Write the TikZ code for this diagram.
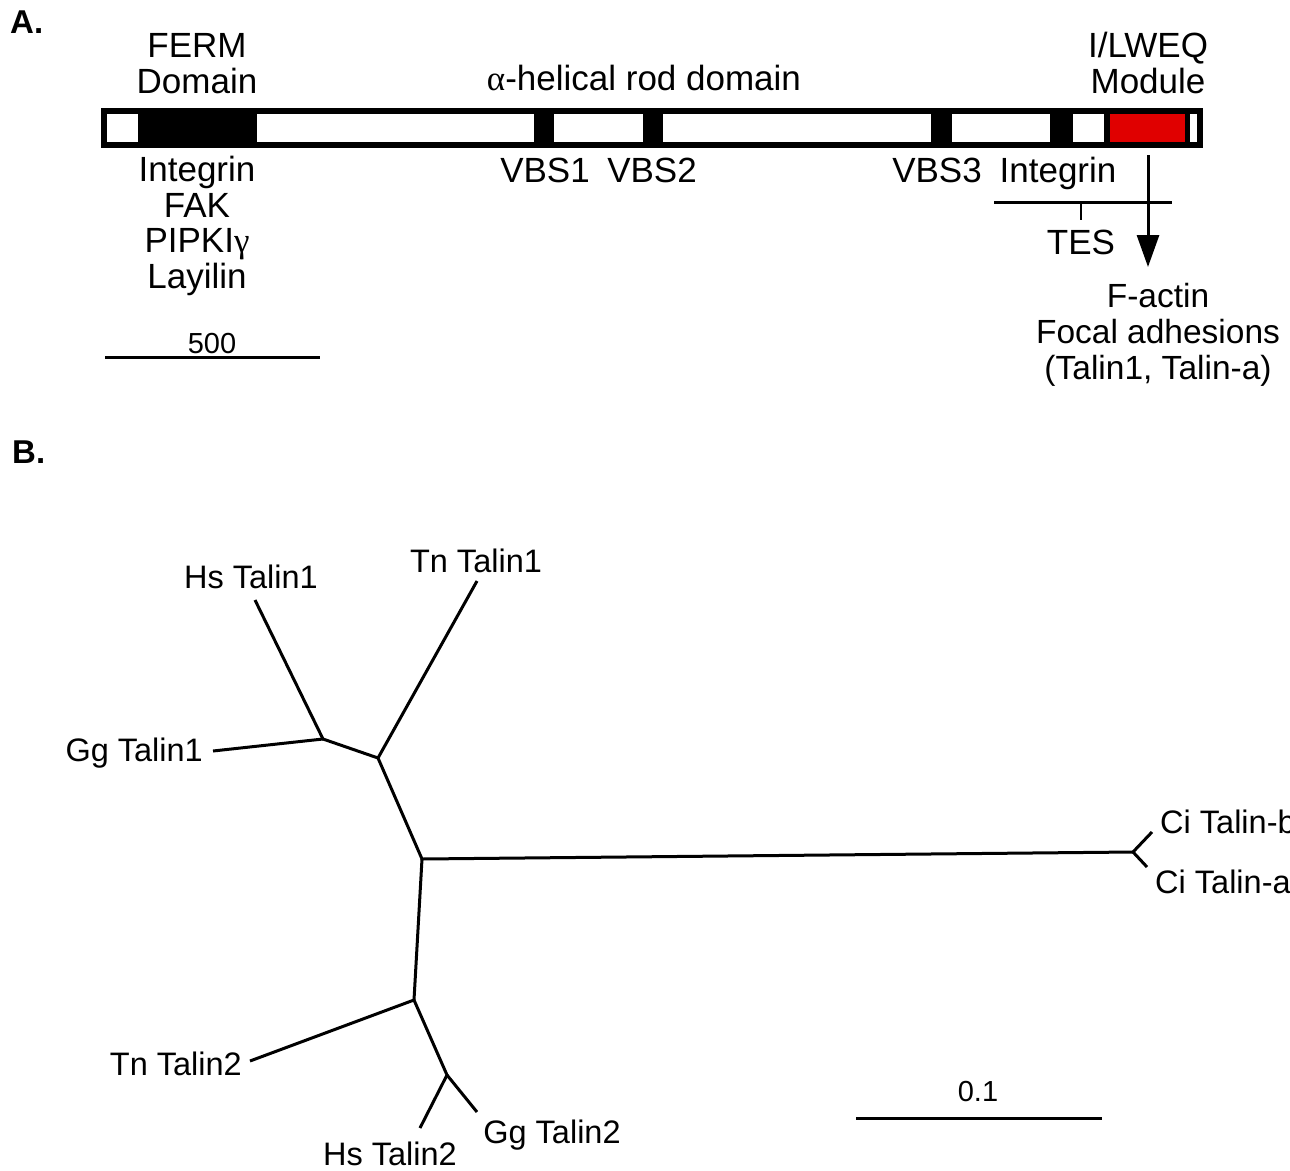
\documentclass[tikz,border=0pt]{standalone}
\usepackage{fontspec}
\setmainfont{Liberation Sans}
\newfontfamily\greekfont{Liberation Serif}
\usetikzlibrary{arrows.meta}
\definecolor{lweqred}{RGB}{224,0,0}

\begin{document}
\begin{tikzpicture}[x=1pt,y=-1pt,
  lbl/.style={inner sep=0pt, anchor=base, align=center,
              font=\fontsize{35}{35.5}\selectfont},
  sublbl/.style={inner sep=0pt, anchor=base, align=center,
              font=\fontsize{33.5}{36}\selectfont},
  taxon/.style={inner sep=0pt, font=\fontsize{32.5}{36}\selectfont},
  scalelbl/.style={inner sep=0pt, anchor=base, font=\fontsize{29}{34}\selectfont},
  panel/.style={inner sep=0pt, anchor=base west, font=\fontsize{33}{38}\selectfont\bfseries},
  branch/.style={line width=3pt},
  scalebar/.style={line width=3pt}
]
\useasboundingbox (0,0) rectangle (1290,1170);
\clip (0,0) rectangle (1290,1170);

% ---------------- Panel A: domain structure ----------------
\node[panel] (pa) at (10,33) {A.};

% bar outline and domains
\fill[black] (101,108) rectangle (1203,148);
\fill[white] (107,114) rectangle (1197,142);
\fill[black] (138,108) rectangle (257,148);   % FERM
\fill[black] (534,108) rectangle (554,148);   % VBS1
\fill[black] (643,108) rectangle (663,148);   % VBS2
\fill[black] (931,108) rectangle (952,148);   % VBS3
\fill[black] (1050,108) rectangle (1073,148); % integrin site
\fill[black] (1104,108) rectangle (1190,148); % I/LWEQ frame
\fill[lweqred] (1110,114) rectangle (1185,142);

% multi-line labels are placed by the baseline of their last line
\node[lbl] (ferm) at (197,93) {FERM\\Domain};
\node[lbl] (rod) at (644,90) {{\greekfont α}-helical rod domain};
\node[lbl] (lweq) at (1148,93) {I/LWEQ\\Module};

\node[lbl] (nterm) at (197,288) {Integrin\\FAK\\PIPKI{\greekfont γ}\\Layilin};
\node[lbl] (vbs1) at (545,182) {VBS1};
\node[lbl] (vbs2) at (652,182) {VBS2};
\node[lbl] (vbs3) at (937,182) {VBS3};
\node[lbl] (integ) at (1058,182) {Integrin};

% TES bracket
\coordinate (tesl) at (994,202);
\coordinate (tesr) at (1172,202);
\coordinate (tesm) at (1081,202);
\node[lbl] (tes) at (1081,254) {TES};
\draw[line width=3pt] (tesl) -- (tesr);
\draw[line width=2.5pt] (tesm) -- ++(0,18);

% actin-binding arrow
\node[sublbl] (actin) at (1158,379) {F-actin\\Focal adhesions\\(Talin1, Talin-a)};
\coordinate (arrtop) at (1148,155);
\coordinate (arrtip) at (1148,267);
\draw[line width=3pt, -{Triangle[length=32pt,width=22pt]}] (arrtop) -- (arrtip);

% scale bar
\coordinate (sa1) at (105,357);
\coordinate (sa2) at (320,357);
\draw[scalebar] (sa1) -- (sa2);
\node[scalelbl] (s500) at (212,353) {500};

% ---------------- Panel B: unrooted tree ----------------
\node[panel] (pb) at (12,463) {B.};

\coordinate (n1) at (323,739);
\coordinate (n2) at (378,758);
\coordinate (n3) at (422,859);
\coordinate (n4) at (414,1000);
\coordinate (n5) at (447,1075);
\coordinate (nc) at (1133,852);

\coordinate (hs1) at (255,600);
\coordinate (tn1) at (477,581);
\coordinate (gg1) at (213,751);
\coordinate (tn2) at (250,1061);
\coordinate (hs2) at (420,1128);
\coordinate (gg2) at (477,1112);
\coordinate (cib) at (1152,832);
\coordinate (cia) at (1147,867);

\draw[branch] (hs1) -- (n1) -- (n2) -- (tn1);
\draw[branch] (gg1) -- (n1);
\draw[branch] (n2) -- (n3) -- (nc);
\draw[branch] (cib) -- (nc) -- (cia);
\draw[branch] (n3) -- (n4) -- (tn2);
\draw[branch] (n4) -- (n5) -- (hs2);
\draw[branch] (n5) -- (gg2);

\node[taxon, anchor=base] (lhs1) at (251,588) {Hs Talin1};
\node[taxon, anchor=base] (ltn1) at (476,572) {Tn Talin1};
\node[taxon, anchor=base east] (lgg1) at (203,761) {Gg Talin1};
\node[taxon, anchor=base east] (ltn2) at (242,1075) {Tn Talin2};
\node[taxon, anchor=base] (lhs2) at (390,1165) {Hs Talin2};
\node[taxon, anchor=base] (lgg2) at (552,1143) {Gg Talin2};
\node[taxon, anchor=base west] (lcib) at (1160,833) {Ci Talin-b};
\node[taxon, anchor=base west] (lcia) at (1155,893) {Ci Talin-a};

% tree scale bar
\coordinate (sb1) at (856,1118);
\coordinate (sb2) at (1102,1118);
\draw[scalebar] (sb1) -- (sb2);
\node[scalelbl] (s01) at (978,1101) {0.1};
\end{tikzpicture}
\end{document}
